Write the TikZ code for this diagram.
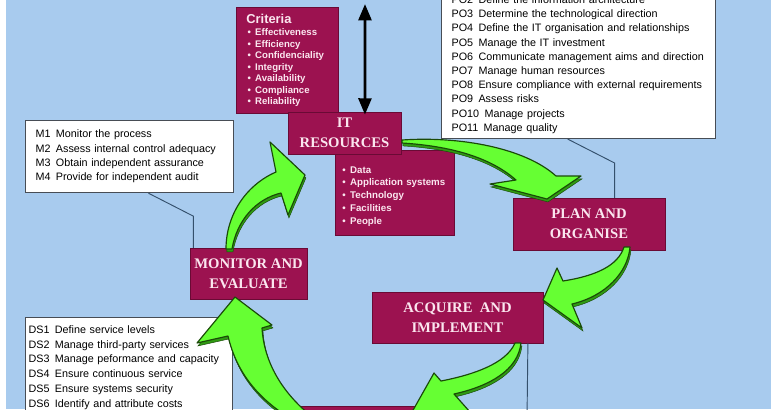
\documentclass[tikz,border=0pt]{standalone}
\usepackage{fontspec}
\setmainfont{Liberation Serif}
\setsansfont{Liberation Sans}
\usetikzlibrary{arrows.meta, calc, positioning, shadows}

\definecolor{sky}{HTML}{A8CBEE}
\definecolor{boxred}{HTML}{9C1250}
\definecolor{boxedge}{HTML}{6A0A35}
\definecolor{titletext}{HTML}{FBE6EF}
\definecolor{arrowgreen}{HTML}{66FF33}
\definecolor{arrowdark}{HTML}{2F9A12}
\definecolor{arrowedge}{HTML}{1A4A08}
\definecolor{linkcol}{HTML}{34506C}
\definecolor{listedge}{HTML}{474D55}

\newcommand{\bul}{\makebox[0.8em][l]{\textbullet}}

\begin{document}
\begin{tikzpicture}[x=0.03cm, y=-0.03cm,
        every node/.style = {font=\sffamily},
        titlebox/.style = {fill=boxred, draw=boxedge, line width=0.6pt, text=titletext, align=center, inner sep=0pt,
                font=\rmfamily\bfseries\fontsize{12.5}{17}\selectfont,
                drop shadow={shadow xshift=0.8pt, shadow yshift=-0.8pt, opacity=0.45}},
        redlist/.style = {fill=boxred, draw=boxedge, line width=0.6pt, text=titletext, align=left, anchor=north west,
                inner ysep=0pt,
                drop shadow={shadow xshift=0.8pt, shadow yshift=-0.8pt, opacity=0.45}},
        whitelist/.style = {fill=white, draw=listedge, line width=1pt, text=black, align=left, anchor=north west},
        link/.style = {draw=linkcol, line width=0.8pt},
        greenarrow/.style = {fill=arrowgreen, draw=arrowedge, line width=1pt, line join=round,
                preaction={fill=arrowdark, draw=arrowedge, transform canvas={shift={(0.8pt,-2.5pt)}}}}]

    \path[use as bounding box, clip] (0, 0) rectangle (778, 409);
    \fill[white] (0, 0) rectangle (778, 409);
    \fill[sky] (6, 0) rectangle (771, 409);

    % lists of processes
    \node[whitelist, anchor=south west, text width=7.62cm, inner xsep=0.3cm, inner ysep=0.15cm,
          font=\sffamily\fontsize{9.2}{12.1}\selectfont] (pobox) at (441, 139) {%
        PO2\enspace Define the information architecture\\
        PO3\enspace Determine the technological direction\\
        PO4\enspace Define the IT organisation and relationships\\
        PO5\enspace Manage the IT investment\\
        PO6\enspace Communicate management aims and direction\\
        PO7\enspace Manage human resources\\
        PO8\enspace Ensure compliance with external requirements\\
        PO9\enspace Assess risks\\
        PO10\enspace Manage projects\\
        PO11\enspace Manage quality};

    \node[whitelist, text width=5.64cm, minimum height=2.16cm, inner xsep=0.3cm,
          font=\sffamily\fontsize{9.2}{12.2}\selectfont] (mbox) at (25, 120) {%
        M1\enspace Monitor the process\\
        M2\enspace Assess internal control adequacy\\
        M3\enspace Obtain independent assurance\\
        M4\enspace Provide for independent audit};

    \node[whitelist, text width=6.03cm, inner xsep=0.09cm, inner ysep=0.24cm,
          font=\sffamily\fontsize{9.2}{12.6}\selectfont] (dsbox) at (25, 317) {%
        DS1\enspace Define service levels\\
        DS2\enspace Manage third-party services\\
        DS3\enspace Manage peformance and capacity\\
        DS4\enspace Ensure continuous service\\
        DS5\enspace Ensure systems security\\
        DS6\enspace Identify and attribute costs\\
        \strut};

    % connectors
    \draw[link] ($(mbox.south west)!0.59!(mbox.south east)$) -- ($(mbox.south west)!0.59!(mbox.south east) + (45, 23)$)
        |- ($(mbox.south west)!0.59!(mbox.south east) + (45, 56)$);
    \draw[link] ($(pobox.south west)!0.46!(pobox.south east)$) -- ($(pobox.south west)!0.46!(pobox.south east) + (47, 24)$)
        -- ($(pobox.south west)!0.46!(pobox.south east) + (47, 60)$);
    \coordinate (aiout) at (527, 420);

    % criteria and resources
    \node[redlist, text width=2.46cm, minimum height=3.18cm, inner xsep=0.3cm,
          font=\sffamily\bfseries\fontsize{8.2}{9.8}\selectfont] (crit) at (236, 7) {%
        {\fontsize{11}{13}\selectfont Criteria}\\[1pt]
        \hspace{1pt}\bul Effectiveness\\
        \hspace{1pt}\bul Efficiency\\
        \hspace{1pt}\bul Confidenciality\\
        \hspace{1pt}\bul Integrity\\
        \hspace{1pt}\bul Availability\\
        \hspace{1pt}\bul Compliance\\
        \hspace{1pt}\bul Reliability};

    \node[redlist, text width=3.15cm, minimum height=2.55cm, inner xsep=0.21cm,
          font=\sffamily\bfseries\fontsize{8.3}{11}\selectfont] (res) at (335, 150) {%
        \rule{0pt}{12pt}\bul Data\\
        \bul Application systems\\
        \bul Technology\\
        \bul Facilities\\
        \bul People};

    % domains
    \node[titlebox, minimum width=3.39cm, minimum height=1.26cm] (itres) at (344.5, 133) {IT\\RESOURCES};
    \node[titlebox, minimum width=4.56cm, minimum height=1.56cm] (plan) at (589, 224) {PLAN AND\\ORGANISE};
    \node[titlebox, minimum width=5.13cm, minimum height=1.53cm] (acquire) at (457.5, 317.5) {ACQUIRE\ \ AND\\IMPLEMENT};
    \node[titlebox, minimum width=3.51cm, minimum height=1.53cm] (monitor) at (248.5, 273.5) {MONITOR AND\\EVALUATE};
    \node[titlebox, minimum width=4.56cm, minimum height=1.5cm] (deliver) at (374, 431) {};

    \draw[link] ($(acquire.south west)!0.91!(acquire.south east)$) -- (aiout);

    % link to business requirements
    \coordinate (bizreq) at (365, 4);
    \draw[line width=2.5pt, {Triangle[length=14pt, width=11pt]}-{Triangle[length=14pt, width=11pt]}]
        (bizreq) -- ($(itres.north west)!0.68!(itres.north east) + (0, 3)$);

    % green cycle arrows
    \filldraw[greenarrow] (402, 140) .. controls (460, 136) and (525, 148) .. (556, 176) -- (581, 176) -- (547, 199)
        -- (490, 184) -- (516, 180) .. controls (490, 157) and (450, 146) .. (402, 143) -- cycle;
    \filldraw[greenarrow] (624, 247) .. controls (618, 266) and (595, 276) .. (563, 281) -- (557, 268) -- (543, 300)
        -- (582, 328) -- (572, 304) .. controls (606, 296) and (628, 272) .. (630, 247) -- cycle;
    \filldraw[greenarrow] (515, 343) .. controls (506, 364) and (472, 375) .. (441, 381) -- (434, 373) -- (412, 412)
        -- (470, 412) -- (454, 394) .. controls (490, 386) and (518, 370) .. (521, 343) -- cycle;
    \filldraw[greenarrow] (285, 415) .. controls (255, 395) and (236, 370) .. (228, 336) -- (197, 343) -- (235, 297)
        -- (272, 325) -- (262, 328) .. controls (264, 362) and (282, 392) .. (310, 415) -- cycle;
    \filldraw[greenarrow] (226, 249) .. controls (226, 215) and (246, 185) .. (276, 172) -- (270, 142) -- (305, 175)
        -- (288, 215) -- (281, 193) .. controls (256, 199) and (237, 220) .. (232, 249) -- cycle;
\end{tikzpicture}
\end{document}
